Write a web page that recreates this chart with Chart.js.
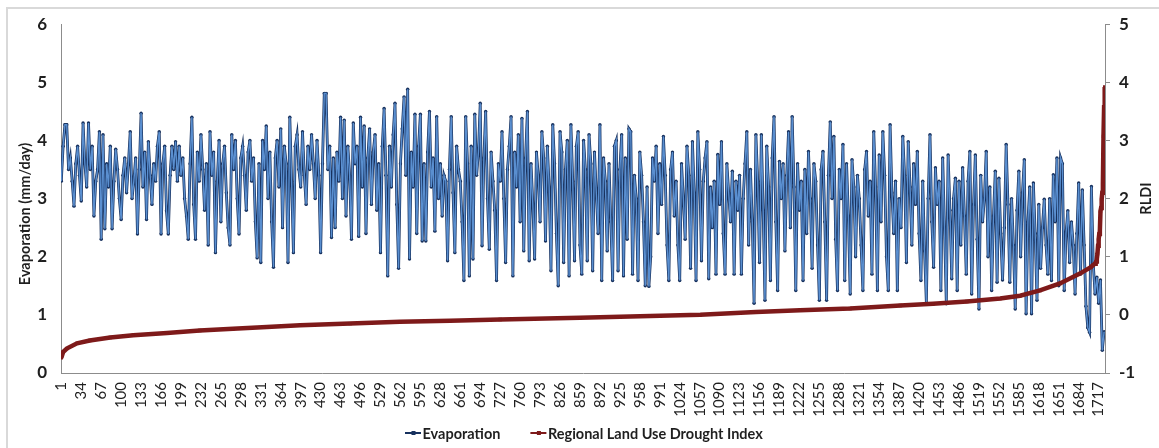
<!DOCTYPE html>
<html>
<head>
<meta charset="utf-8">
<script src="https://cdn.jsdelivr.net/npm/chart.js@4.4.1/dist/chart.umd.min.js"></script>
<style>
  html, body { margin: 0; padding: 0; background: #ffffff; }
  #chart { display: block; }
</style>
</head>
<body>
<canvas id="chart" width="1159" height="448"></canvas>
<script>
// Day numbers printed under the horizontal axis
const tickLabels = [1, 34, 67, 100, 133, 166, 199, 232, 265, 298, 331, 364, 397, 430, 463, 496, 529, 562,
  595, 628, 661, 694, 727, 760, 793, 826, 859, 892, 925, 958, 991, 1024, 1057, 1090, 1123, 1156, 1189,
  1222, 1255, 1288, 1321, 1354, 1387, 1420, 1453, 1486, 1519, 1552, 1585, 1618, 1651, 1684, 1717];

const dayCount = 1727;

// Evaporation (mm/day), one reading every third day starting at day 1
const evapFirstDay = 1;
const evapStepDays = 3;
const evaporation = [
  3.3,3.9,4.27,4.27,3.5,3.7,3.3,2.87,3.6,3.9,3.4,2.96,4.3,3.6,3.2,4.3,3.5,3.9,2.7,3.3,
  3.5,4.15,2.3,4.1,2.48,3.6,3.2,3.9,2.48,3.3,3.85,3.5,3.0,2.64,3.4,3.7,3.1,3.6,4.15,3.0,
  3.3,3.7,2.39,3.5,4.47,3.2,3.8,2.64,3.98,3.4,2.9,3.6,3.3,3.9,4.15,2.39,3.6,3.9,2.79,2.39,
  3.4,3.9,3.5,3.98,3.3,3.9,3.4,3.7,3.0,2.7,2.3,3.6,4.4,2.9,2.3,3.8,3.3,4.1,3.5,2.8,
  3.6,2.2,4.15,3.4,3.8,2.07,3.3,4.0,2.6,3.6,3.9,3.1,2.5,2.2,4.1,3.5,4.0,3.0,2.39,3.7,
  3.9,3.4,2.8,3.8,4.0,3.3,3.7,2.6,1.98,3.6,1.9,4.0,3.5,4.25,3.0,3.8,2.6,1.82,3.7,4.0,
  3.2,4.2,2.5,3.9,3.6,1.9,4.4,3.3,2.07,3.9,4.1,3.5,3.2,4.15,3.4,2.9,3.9,3.5,4.1,3.6,
  3.0,4.0,3.4,2.07,3.6,4.81,4.81,3.5,3.9,2.33,3.7,2.5,3.8,3.3,4.4,3.0,4.35,2.7,3.9,3.4,
  2.3,4.3,3.6,3.9,2.35,4.4,3.2,4.25,2.4,3.7,4.2,2.9,3.8,4.1,2.8,3.6,2.07,3.9,4.55,3.4,
  1.67,3.9,3.2,4.1,4.64,2.9,1.8,3.6,4.2,4.75,3.4,4.88,1.96,3.8,3.2,4.45,2.4,3.9,4.45,2.27,
  3.6,2.27,3.8,4.5,3.2,3.7,2.44,4.41,3.0,3.6,2.7,3.4,3.3,1.93,3.5,4.41,3.1,2.07,3.9,3.5,
  3.3,2.6,1.59,4.41,3.6,1.67,3.9,1.96,4.45,3.4,3.8,4.64,2.19,3.7,4.5,3.0,2.13,3.8,3.3,2.8,
  1.59,3.6,3.3,4.15,3.0,1.9,3.5,3.9,4.41,1.67,3.8,3.2,4.1,2.6,4.38,2.1,3.7,4.5,1.93,3.6,
  2.9,1.96,3.8,3.4,2.6,4.15,3.7,2.27,3.9,3.2,1.76,4.27,3.6,2.4,1.5,4.15,3.8,1.9,3.5,4.0,
  1.67,4.27,3.3,1.93,3.9,4.15,2.2,1.7,4.0,3.5,1.93,4.1,3.6,1.76,3.8,3.1,2.4,4.27,1.59,3.7,
  3.3,2.1,3.6,2.6,1.59,3.9,4.0,1.76,3.5,4.1,1.67,3.7,2.3,4.2,4.15,1.7,3.4,3.0,1.59,3.8,
  3.4,2.6,1.5,3.2,1.49,2.0,3.7,3.3,3.9,2.4,3.6,2.9,4.07,3.4,2.2,1.59,3.5,3.8,2.7,3.3,
  2.2,1.59,3.6,3.0,2.3,3.9,3.4,1.8,3.98,3.1,1.59,4.15,3.5,1.93,3.3,3.7,3.98,1.62,3.2,2.5,
  3.3,1.7,3.76,2.9,3.98,2.4,1.7,3.6,3.1,2.6,3.47,1.7,3.3,2.8,3.4,1.7,3.0,3.6,4.15,2.2,
  3.5,2.6,1.2,4.1,3.3,1.9,4.1,2.8,1.25,3.9,3.2,1.59,3.7,4.41,2.6,1.42,3.64,3.0,3.6,2.1,
  3.4,4.15,2.5,4.41,3.2,1.42,3.6,2.8,3.3,1.59,3.5,2.4,3.81,3.0,1.8,3.6,3.3,2.2,1.25,3.5,
  3.81,2.6,1.25,3.4,4.32,3.0,4.07,2.3,1.42,3.5,3.0,3.93,1.59,3.6,2.7,1.36,3.67,3.2,2.0,3.4,
  3.0,2.2,1.42,3.5,3.81,2.7,3.3,1.7,4.15,3.2,1.42,3.75,2.6,4.15,3.4,2.0,1.42,4.27,3.1,2.4,
  3.3,1.42,3.0,2.5,4.07,3.4,1.9,3.98,3.2,2.2,3.6,2.9,3.81,2.4,1.59,3.3,2.1,1.2,3.0,4.1,
  2.6,1.82,3.53,2.9,3.3,1.42,3.7,2.5,1.19,3.75,2.8,1.62,3.0,3.35,1.42,3.3,2.2,3.53,2.7,1.7,
  3.3,3.81,1.36,2.9,3.75,2.3,1.1,3.4,2.6,3.0,3.81,2.0,3.2,1.42,2.7,3.47,1.56,3.35,2.4,1.6,
  2.5,3.93,2.9,1.56,3.0,2.2,1.1,2.8,3.47,2.0,3.1,3.67,1.02,2.6,3.2,1.02,3.27,2.4,1.25,2.9,
  1.8,2.5,2.99,2.2,1.7,3.0,1.59,3.41,2.6,3.7,1.5,3.7,3.6,1.42,2.4,2.79,1.9,2.6,2.2,1.36,
  2.4,3.27,1.7,3.15,2.2,1.15,0.78,0.7,3.21,1.9,1.36,1.65,1.2,1.6,0.39,0.71
];

// Regional Land Use Drought Index, ranked ascending
const rldiDays = [1, 4, 10, 27, 48, 82, 120, 176, 230, 285, 341, 396, 479, 561, 644, 727, 859, 975,
  1058, 1150, 1223, 1306, 1389, 1443, 1499, 1554, 1587, 1620, 1653, 1686, 1704, 1707, 1711, 1712,
  1713, 1714, 1715, 1716, 1717, 1718, 1719, 1720, 1721, 1722, 1723, 1724, 1725, 1726, 1727];
const rldiValues = [-0.74, -0.64, -0.58, -0.49, -0.44, -0.39, -0.35, -0.31, -0.27, -0.24, -0.21, -0.18,
  -0.15, -0.12, -0.10, -0.08, -0.05, -0.02, 0.00, 0.05, 0.08, 0.11, 0.16, 0.19, 0.23, 0.28, 0.33,
  0.42, 0.54, 0.71, 0.82, 0.85, 0.88, 0.90, 0.92, 0.96, 1.05, 1.19, 1.30, 1.39, 1.45, 1.78, 1.84,
  1.99, 2.10, 2.25, 3.07, 3.57, 3.92];

const seriesNames = ['Evaporation', 'Regional Land Use Drought Index'];
const axisTitles = ['Evaporation (mm/day)', 'RLDI'];

const EVAP_DARK = '#17315e';
const EVAP_LIGHT = '#5a8fd0';
const RLDI_COLOR = '#7e1a1a';
const AXIS_GREY = '#8c8c8c';
const TEXT = '#1f1f1f';
const FONT = 'Lato, "Liberation Sans", sans-serif';

const evapPoints = evaporation.map((v, i) => ({ x: evapFirstDay + i * evapStepDays, y: v }));
const rldiPoints = rldiDays.map((d, i) => ({ x: d, y: rldiValues[i] }));

// White page, light frame, rotated axis titles and the legend row
const decorations = {
  id: 'decorations',
  beforeDraw(chart) {
    const { ctx, width, height } = chart;
    ctx.save();
    ctx.fillStyle = '#ffffff';
    ctx.fillRect(0, 0, width, height);
    ctx.strokeStyle = '#d9d9d9';
    ctx.lineWidth = 2;
    ctx.strokeRect(7, 8, width + 20, height + 20);
    ctx.restore();
  },
  afterDraw(chart) {
    const { ctx, chartArea } = chart;
    ctx.save();
    ctx.fillStyle = TEXT;
    ctx.font = 'bold 14.5px ' + FONT;
    ctx.textAlign = 'center';
    ctx.textBaseline = 'middle';

    ctx.save();
    ctx.translate(25, 214);
    ctx.rotate(-Math.PI / 2);
    ctx.fillText(axisTitles[0], 0, 0);
    ctx.restore();

    ctx.save();
    ctx.translate(1146, (chartArea.top + chartArea.bottom) / 2);
    ctx.rotate(-Math.PI / 2);
    ctx.fillText(axisTitles[1], 0, 0);
    ctx.restore();

    // legend
    const colors = [EVAP_DARK, RLDI_COLOR];
    const y = 433;
    let x = 405;
    ctx.textAlign = 'left';
    seriesNames.forEach((name, i) => {
      ctx.strokeStyle = colors[i];
      ctx.lineWidth = 2;
      ctx.beginPath();
      ctx.moveTo(x, y);
      ctx.lineTo(x + 16, y);
      ctx.stroke();
      ctx.fillStyle = colors[i];
      ctx.fillRect(x + 6.5, y - 2, 4, 4);
      ctx.fillStyle = TEXT;
      ctx.fillText(name, x + 17.5, y + 1);
      x += 17.5 + ctx.measureText(name).width + 30;
    });
    ctx.restore();
  }
};

function draw() {
  new Chart(document.getElementById('chart'), {
    type: 'line',
    data: {
      datasets: [
        {
          label: seriesNames[1],
          data: rldiPoints,
          yAxisID: 'y2',
          borderColor: RLDI_COLOR,
          backgroundColor: RLDI_COLOR,
          borderWidth: 4.5,
          pointStyle: 'rect',
          pointRadius: 2.4,
          pointBorderWidth: 0,
          pointBackgroundColor: RLDI_COLOR,
          order: 1
        },
        {
          label: seriesNames[0],
          data: evapPoints,
          yAxisID: 'y',
          borderColor: EVAP_LIGHT,
          borderWidth: 1.4,
          pointRadius: 0,
          order: 2
        },
        {
          label: seriesNames[0],
          data: evapPoints,
          yAxisID: 'y',
          borderColor: EVAP_DARK,
          borderWidth: 2.8,
          pointRadius: 1.7,
          pointBorderWidth: 0,
          pointBackgroundColor: EVAP_DARK,
          order: 3
        }
      ]
    },
    options: {
      responsive: false,
      animation: false,
      devicePixelRatio: 1,
      events: [],
      layout: { padding: { top: 22, left: 0, right: 0, bottom: 0 } },
      plugins: { legend: { display: false }, tooltip: { enabled: false } },
      scales: {
        x: {
          type: 'linear',
          min: 0.5,
          max: dayCount + 0.5,
          afterBuildTicks(scale) { scale.ticks = tickLabels.map(v => ({ value: v })); },
          afterFit(scale) { scale.height = 75; },
          ticks: {
            autoSkip: false,
            minRotation: 90,
            maxRotation: 90,
            padding: 9,
            color: TEXT,
            font: { family: FONT, size: 15 },
            callback: v => String(v)
          },
          grid: { display: false, drawTicks: false },
          border: { color: AXIS_GREY, width: 1 }
        },
        y: {
          position: 'left',
          min: 0,
          max: 6,
          afterFit(scale) { scale.width = 61; },
          ticks: { stepSize: 1, padding: 14, color: TEXT, font: { family: FONT, size: 17, weight: 'bold' } },
          grid: { display: false, drawTicks: false },
          border: { color: AXIS_GREY, width: 1 }
        },
        y2: {
          position: 'right',
          min: -1,
          max: 5,
          afterFit(scale) { scale.width = 54; },
          ticks: { stepSize: 1, padding: 9, color: TEXT, font: { family: FONT, size: 17, weight: 'bold' } },
          grid: { drawOnChartArea: false, drawTicks: true, tickLength: 5, color: AXIS_GREY },
          border: { color: AXIS_GREY, width: 1 }
        }
      }
    },
    plugins: [decorations]
  });
}

const fontLoads = ['15px Lato', 'bold 14.5px Lato', 'bold 17px Lato'].map(f => document.fonts.load(f));
Promise.all(fontLoads).then(draw, draw);
</script>
</body>
</html>
